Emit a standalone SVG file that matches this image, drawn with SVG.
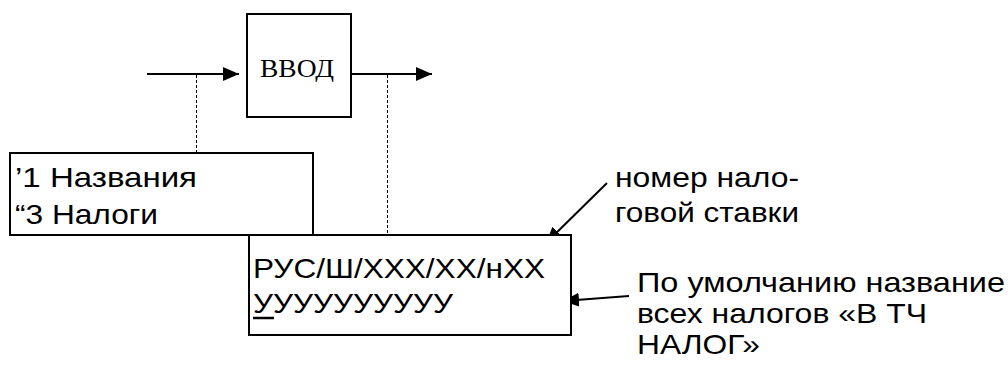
<svg xmlns="http://www.w3.org/2000/svg" width="1008" height="365" viewBox="0 0 1008 365">
<style>
.box{fill:#fff;stroke:#000;stroke-width:2}
.t{font-family:"Liberation Sans",Arial,sans-serif;font-size:28.5px;fill:#000}
.s{font-family:"Liberation Serif","Times New Roman",serif;font-size:26px;fill:#000}
.ln{stroke:#000;stroke-width:2;fill:none}
.dash{stroke:#000;stroke-width:1;stroke-dasharray:3,2;fill:none}
</style>
<defs>
<marker id="ah" markerWidth="16" markerHeight="14" refX="16" refY="7" orient="auto" markerUnits="userSpaceOnUse">
<path d="M0,0 L16,7 L0,14 Z" fill="#000"/>
</marker>
</defs>
<rect width="1008" height="365" fill="#fff"/>
<g id="connectors">
<line class="ln" x1="147" y1="74" x2="239" y2="74" marker-end="url(#ah)"/>
<line class="ln" x1="351" y1="74" x2="432" y2="74" marker-end="url(#ah)"/>
<line class="dash" x1="196.5" y1="75" x2="196.5" y2="153"/>
<line class="dash" x1="387.5" y1="75" x2="387.5" y2="235"/>
<line class="ln" x1="607" y1="183" x2="546" y2="243" marker-end="url(#ah)"/>
<line class="ln" x1="629" y1="296" x2="563" y2="301" marker-end="url(#ah)"/>
</g>
<g id="vvod">
<rect class="box" x="247" y="14" width="104" height="103"/>
<text class="s" x="260" y="77" textLength="74" lengthAdjust="spacingAndGlyphs">ВВОД</text>
</g>
<g id="box1">
<rect class="box" x="10" y="153" width="303" height="82"/>
<text class="t" x="15" y="187" textLength="182" lengthAdjust="spacingAndGlyphs">’1 Названия</text>
<text class="t" x="15" y="224" textLength="143" lengthAdjust="spacingAndGlyphs">“3 Налоги</text>
</g>
<g id="box2">
<rect class="box" x="249" y="235" width="322" height="100"/>
<text class="t" x="253" y="278" textLength="292" lengthAdjust="spacingAndGlyphs">РУС/Ш/ХХХ/ХХ/нХХ</text>
<text class="t" x="253" y="313" textLength="200" lengthAdjust="spacingAndGlyphs">УУУУУУУУУУ</text>
<line x1="253" y1="318" x2="274" y2="318" stroke="#000" stroke-width="2.5"/>
</g>
<g id="label1">
<text class="t" x="615" y="187" textLength="184" lengthAdjust="spacingAndGlyphs">номер нало-</text>
<text class="t" x="615" y="222" textLength="184" lengthAdjust="spacingAndGlyphs">говой ставки</text>
</g>
<g id="label2">
<text class="t" x="637" y="292" textLength="368" lengthAdjust="spacingAndGlyphs">По умолчанию название</text>
<text class="t" x="637" y="323" textLength="290" lengthAdjust="spacingAndGlyphs">всех налогов «В ТЧ</text>
<text class="t" x="637" y="354" textLength="123" lengthAdjust="spacingAndGlyphs">НАЛОГ»</text>
</g>
</svg>
